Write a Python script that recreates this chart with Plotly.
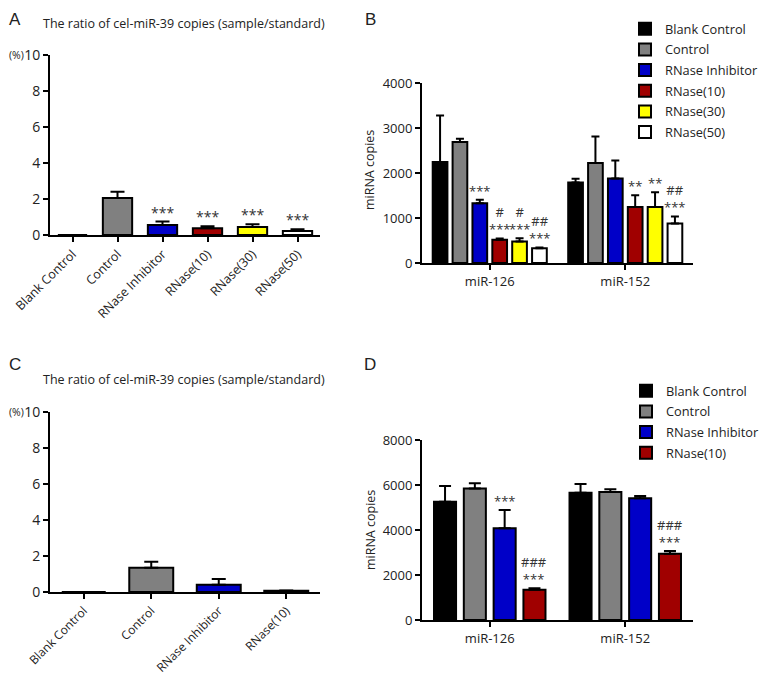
import plotly.graph_objects as go

# ---- data ----
groups_a = ["Blank Control", "Control", "RNase Inhibitor", "RNase(10)", "RNase(30)", "RNase(50)"]
ratio_a = [0.0, 2.05, 0.55, 0.38, 0.45, 0.22]
ratio_a_top = [0.0, 2.40, 0.75, 0.48, 0.60, 0.32]
sig_a = ["", "", "***", "***", "***", "***"]

genes = ["miR-126", "miR-152"]
copies_b = {
    "Blank Control": [2245, 1790],
    "Control": [2690, 2220],
    "RNase Inhibitor": [1330, 1875],
    "RNase(10)": [515, 1245],
    "RNase(30)": [480, 1245],
    "RNase(50)": [330, 875],
}
copies_b_top = {
    "Blank Control": [3280, 1870],
    "Control": [2760, 2810],
    "RNase Inhibitor": [1405, 2275],
    "RNase(10)": [545, 1505],
    "RNase(30)": [550, 1570],
    "RNase(50)": [345, 1035],
}
sig_b = {
    "Blank Control": ["", ""],
    "Control": ["", ""],
    "RNase Inhibitor": ["***", ""],
    "RNase(10)": ["#<br>***", "**"],
    "RNase(30)": ["#<br>***", "**"],
    "RNase(50)": ["##<br>***", "##<br>***"],
}

groups_c = ["Blank Control", "Control", "RNase Inhibitor", "RNase(10)"]
ratio_c = [0.0, 1.35, 0.40, 0.07]
ratio_c_top = [0.0, 1.68, 0.72, 0.09]

copies_d = {
    "Blank Control": [5260, 5660],
    "Control": [5840, 5690],
    "RNase Inhibitor": [4080, 5410],
    "RNase(10)": [1340, 2940],
}
copies_d_top = {
    "Blank Control": [5960, 6050],
    "Control": [6080, 5810],
    "RNase Inhibitor": [4890, 5510],
    "RNase(10)": [1410, 3070],
}
sig_d = {
    "Blank Control": ["", ""],
    "Control": ["", ""],
    "RNase Inhibitor": ["***", ""],
    "RNase(10)": ["###<br>***", "###<br>***"],
}

colors = {
    "Blank Control": "#000000",
    "Control": "#808080",
    "RNase Inhibitor": "#0000C8",
    "RNase(10)": "#A00000",
    "RNase(30)": "#FFFF00",
    "RNase(50)": "#FFFFFF",
}

# the page body adds an 8px margin, so the figure is drawn 8px smaller
# and all layout pixel positions below are shifted by that offset
PAGE_PAD = 8
W, H = 769 - PAGE_PAD, 676 - PAGE_PAD
FONT = "Open Sans"
TXT = "#222222"
BARGAP = 0.12


def px(x):
    return (x - PAGE_PAD) / W


def py(y):
    return 1 - (y - PAGE_PAD) / H


fig = go.Figure()

# ---- panels A and C: single series ----
for cats, vals, tops, ax in [(groups_a, ratio_a, ratio_a_top, ""), (groups_c, ratio_c, ratio_c_top, "3")]:
    fig.add_trace(go.Bar(
        x=cats, y=vals,
        marker=dict(color=[colors[c] for c in cats], line=dict(color="black", width=2)),
        error_y=dict(type="data", symmetric=False,
                     array=[t - v for t, v in zip(tops, vals)],
                     arrayminus=[0] * len(vals),
                     color="black", thickness=2, width=7),
        showlegend=False, xaxis="x" + ax, yaxis="y" + ax,
    ))

for cat, top, s in zip(groups_a, ratio_a_top, sig_a):
    if s:
        fig.add_annotation(x=cat, y=top, text=s, xref="x", yref="y", showarrow=False,
                           xanchor="center", yanchor="bottom", yshift=-2,
                           font=dict(size=14, color="#333"))

# ---- panels B and D: grouped series ----
for data, tops, sigs, ax, leg in [(copies_b, copies_b_top, sig_b, "2", "legend"),
                                  (copies_d, copies_d_top, sig_d, "4", "legend2")]:
    n = len(data)
    slot = (1 - BARGAP) / n
    for i, (name, vals) in enumerate(data.items()):
        fig.add_trace(go.Bar(
            x=genes, y=vals, name=name,
            marker=dict(color=colors[name], line=dict(color="black", width=2)),
            error_y=dict(type="data", symmetric=False,
                         array=[t - v for t, v in zip(tops[name], vals)],
                         arrayminus=[0, 0], color="black", thickness=2,
                         width=4 if n > 4 else 6),
            xaxis="x" + ax, yaxis="y" + ax, legend=leg, legendgroup=name + ax,
        ))
        for g, (top, s) in enumerate(zip(tops[name], sigs[name])):
            if s:
                xc = g - (1 - BARGAP) / 2 + (i + 0.5) * slot
                fig.add_annotation(x=xc, y=top, text=s, xref="x" + ax, yref="y" + ax,
                                   showarrow=False, xanchor="center", yanchor="bottom",
                                   yshift=-2, font=dict(size=13, color="#333"))

axis_common = dict(showline=True, linewidth=2, linecolor="black", ticks="outside",
                   ticklen=5, tickwidth=2, tickcolor="black", showgrid=False,
                   zeroline=False, automargin=False,
                   tickfont=dict(family=FONT, size=13, color=TXT))

fig.update_layout(
    width=W, height=H, margin=dict(l=0, r=0, t=0, b=0),
    plot_bgcolor="white", paper_bgcolor="white",
    barmode="group", bargap=BARGAP, bargroupgap=0.26,
    font=dict(family=FONT, color=TXT),
    xaxis=dict(axis_common, domain=[px(50), px(320)], anchor="y", tickangle=-45,
               range=[-0.5, 5.5], tickfont=dict(family=FONT, size=12.5, color=TXT)),
    yaxis=dict(axis_common, domain=[py(235), py(55)], anchor="x", range=[0, 10],
               tickvals=[0, 2, 4, 6, 8, 10], tickfont=dict(family=FONT, size=14, color=TXT)),
    xaxis2=dict(axis_common, domain=[px(422), px(693)], anchor="y2", range=[-0.5, 1.5]),
    yaxis2=dict(axis_common, domain=[py(263), py(83)], anchor="x2", range=[0, 4000],
                tickvals=[0, 1000, 2000, 3000, 4000]),
    xaxis3=dict(axis_common, domain=[px(50), px(320)], anchor="y3", tickangle=-45,
                range=[-0.5, 3.5], tickfont=dict(family=FONT, size=12, color=TXT)),
    yaxis3=dict(axis_common, domain=[py(592), py(412)], anchor="x3", range=[0, 10],
                tickvals=[0, 2, 4, 6, 8, 10], tickfont=dict(family=FONT, size=14, color=TXT)),
    xaxis4=dict(axis_common, domain=[px(422), px(693)], anchor="y4", range=[-0.5, 1.5]),
    yaxis4=dict(axis_common, domain=[py(620), py(440)], anchor="x4", range=[0, 8000],
                tickvals=[0, 2000, 4000, 6000, 8000]),
    legend=dict(x=px(625), y=py(14), xanchor="left", yanchor="top",
                font=dict(family=FONT, size=12.8, color=TXT), bgcolor="rgba(0,0,0,0)",
                tracegroupgap=1),
    legend2=dict(x=px(626), y=py(376), xanchor="left", yanchor="top",
                 font=dict(family=FONT, size=12.8, color=TXT), bgcolor="rgba(0,0,0,0)",
                 tracegroupgap=1),
)

# panel letters, titles and axis labels
for letter, x, y in [("A", 15, 19), ("B", 370, 19), ("C", 15, 364), ("D", 370, 364)]:
    fig.add_annotation(x=px(x), y=py(y), xref="paper", yref="paper", text=letter,
                       xanchor="center", yanchor="middle", showarrow=False,
                       font=dict(family="Liberation Sans", size=17, color=TXT))

title = "The ratio of cel-miR-39 copies (sample/standard)"
for y in [24, 380]:
    fig.add_annotation(x=px(184), y=py(y), xref="paper", yref="paper", text=title,
                       xanchor="center", yanchor="middle", showarrow=False,
                       font=dict(family=FONT, size=12.5, color=TXT))

for y in [55, 412]:
    fig.add_annotation(x=px(16.5), y=py(y), xref="paper", yref="paper", text="(%)",
                       xanchor="center", yanchor="middle", showarrow=False,
                       font=dict(family=FONT, size=10.5, color=TXT))

for y in [170, 530]:
    fig.add_annotation(x=px(370), y=py(y), xref="paper", yref="paper", text="miRNA copies",
                       xanchor="center", yanchor="middle", textangle=-90, showarrow=False,
                       font=dict(family=FONT, size=12.5, color=TXT))

fig.write_html("out.html")
